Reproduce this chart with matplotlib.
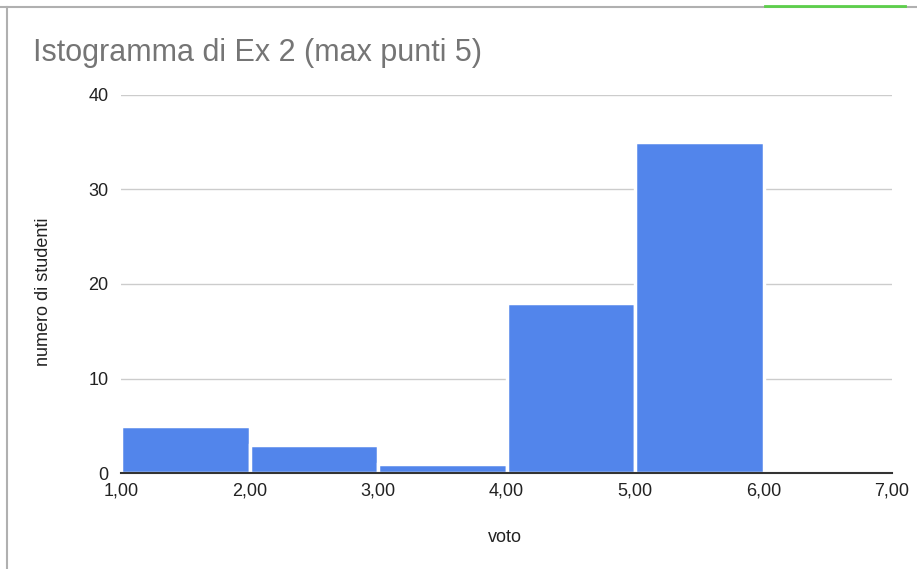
import matplotlib
matplotlib.use("Agg")
import matplotlib.pyplot as plt
from matplotlib.lines import Line2D

plt.rcParams['font.family'] = ['Liberation Sans', 'DejaVu Sans']

bin_left = [1, 2, 3, 4, 5]
counts = [5, 3, 1, 18, 35]
x_ticks = [1, 2, 3, 4, 5, 6, 7]
x_tick_labels = ["1,00", "2,00", "3,00", "4,00", "5,00", "6,00", "7,00"]
y_ticks = [0, 10, 20, 30, 40]
title = "Istogramma di Ex 2 (max punti 5)"
xlabel = "voto"
ylabel = "numero di studenti"

W, H = 917, 569
fig = plt.figure(figsize=(W / 100, H / 100), dpi=100)
ax = fig.add_axes([121 / W, 1 - 473 / H, (892 - 121) / W, (473 - 95) / H])

ax.bar(bin_left, counts, width=1, align='edge', color='#5285EB',
       edgecolor='white', linewidth=2.5, zorder=3)

ax.set_xlim(1, 7)
ax.set_ylim(0, 40)
ax.set_xticks(x_ticks)
ax.set_xticklabels(x_tick_labels)
ax.set_yticks(y_ticks)
ax.tick_params(axis='both', length=0, labelsize=13, colors='#222222')
ax.tick_params(axis='x', pad=7)
ax.tick_params(axis='y', pad=9)
ax.grid(axis='y', color='#cccccc', linewidth=1, zorder=0)
for s in ['top', 'right', 'left']:
    ax.spines[s].set_visible(False)
ax.spines['bottom'].set_color('#333333')
ax.spines['bottom'].set_linewidth(1.5)
ax.spines['bottom'].set_zorder(4)

fig.text(33 / W, 1 - 53 / H, title, fontsize=22, color='#757575',
         ha='left', va='center')
fig.text(505 / W, 1 - 537 / H, xlabel, fontsize=13, color='#222222',
         ha='center', va='center')
fig.text(44 / W, 1 - 292 / H, ylabel, fontsize=13, color='#222222',
         ha='center', va='center', rotation=90)

fig.add_artist(Line2D([0, 1], [1 - 7 / H, 1 - 7 / H], color='#b0b0b0', lw=1.5))
fig.add_artist(Line2D([7 / W, 7 / W], [0, 1 - 7 / H], color='#b0b0b0', lw=1.5))
fig.add_artist(Line2D([765 / W, 905 / W], [1 - 6 / H, 1 - 6 / H], color='#5ccf4a', lw=2))

fig.savefig("out.png", dpi=100)
